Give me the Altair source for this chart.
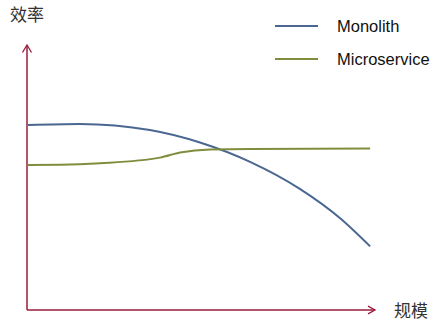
import altair as alt
import pandas as pd

series_names = ["Monolith", "Microservice"]
series_colors = ["#4A6791", "#7F8E3C"]

mono_x = [0.3, 15.2, 35.3, 49.7, 64.1, 78.4, 89.9, 98.6]
mono_y = [69.8, 70.2, 67.9, 63.2, 55.9, 45.7, 34.7, 24.0]

micro_x = [0.3, 9.5, 21.0, 38.2, 44.0, 52.6, 64.1, 98.6]
micro_y = [54.7, 54.8, 55.4, 57.5, 59.4, 60.6, 60.8, 60.9]

y_label = "效率"
x_label = "规模"

mono_df = pd.DataFrame({"series": series_names[0], "x": mono_x, "y": mono_y})
micro_df = pd.DataFrame({"series": series_names[1], "x": micro_x, "y": micro_y})
one = pd.DataFrame({"d": [0]})

W, H = 348, 265
axis_color = "#9B1B3A"

xs = alt.Scale(domain=[0, 100], nice=False, zero=False)
ys = alt.Scale(domain=[0, 100], nice=False, zero=False)
cs = alt.Scale(domain=series_names, range=series_colors)

def series_line(d, interp):
    return alt.Chart(d).mark_line(interpolate=interp, strokeWidth=2).encode(
        x=alt.X("x:Q", scale=xs, axis=None),
        y=alt.Y("y:Q", scale=ys, axis=None),
        color=alt.Color("series:N", scale=cs, legend=None),
    )

mono_line = series_line(mono_df, "monotone")
micro_line = series_line(micro_df, "monotone")

base = alt.Chart(one)
x_axis = base.mark_rule(color=axis_color, strokeWidth=1.5).encode(
    x=alt.value(0), x2=alt.value(W), y=alt.value(H))
y_axis = base.mark_rule(color=axis_color, strokeWidth=1.5).encode(
    x=alt.value(0), y=alt.value(0), y2=alt.value(H))
x_arrow = base.mark_point(shape="M-1,-0.55L0,0L-1,0.55", size=196, filled=False,
                          color=axis_color, strokeWidth=1.3, opacity=1).encode(
    x=alt.value(W), y=alt.value(H))
y_arrow = base.mark_point(shape="M-0.6,1L0,0L0.6,1", size=225, filled=False,
                          color=axis_color, strokeWidth=1.3, opacity=1).encode(
    x=alt.value(0), y=alt.value(0))

cjk = "Noto Sans CJK SC"
ylab = base.mark_text(text=y_label, font=cjk, fontSize=17, color="#333333",
                      align="center", baseline="middle").encode(
    x=alt.value(0), y=alt.value(-29))
xlab = base.mark_text(text=x_label, font=cjk, fontSize=17, color="#333333",
                      align="center", baseline="middle").encode(
    x=alt.value(384), y=alt.value(267))

leg = []
for i, (name, col) in enumerate(zip(series_names, series_colors)):
    yy = -19 + i * 33
    leg.append(base.mark_rule(color=col, strokeWidth=2).encode(
        x=alt.value(248), x2=alt.value(291), y=alt.value(yy)))
    leg.append(base.mark_text(text=name, font="Liberation Sans", fontSize=16.5, color="#111111",
                              align="left", baseline="middle").encode(
        x=alt.value(310), y=alt.value(yy + 1)))

chart = alt.layer(x_axis, y_axis, x_arrow, y_arrow, mono_line, micro_line, ylab, xlab, *leg).properties(
    width=W, height=H,
    autosize=alt.AutoSizeParams(type="none"),
    padding={"left": 27, "top": 45, "right": 72, "bottom": 19},
    background="white",
).configure_view(stroke=None)

chart.save("out.html", embed_options={"renderer": "svg", "actions": False})
